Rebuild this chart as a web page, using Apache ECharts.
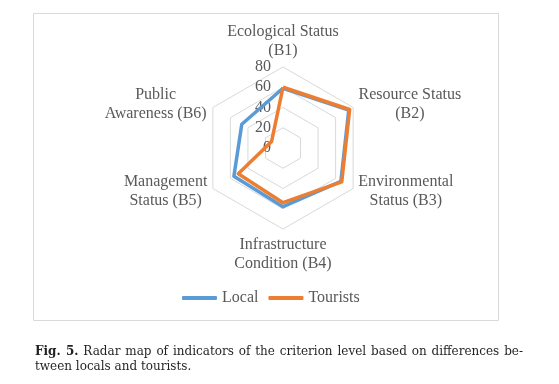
<!DOCTYPE html>
<html>
<head>
<meta charset="utf-8">
<script src="https://cdn.jsdelivr.net/npm/echarts@6/dist/echarts.min.js"></script>
<style>
  html, body { margin: 0; padding: 0; background: #fff; }
  #chart { position: absolute; left: 0; top: 0; width: 559px; height: 384px; }
  .cap { position: absolute; left: 35px; width: 488px; font-family: "DejaVu Serif", serif; font-size: 12px; line-height: 15px; color: #231f20; white-space: nowrap; }
  #cap1 { top: 344px; text-align: justify; text-align-last: justify; }
  #cap2 { top: 359px; }
</style>
</head>
<body>
<div id="chart"></div>
<div class="cap" id="cap1"><b>Fig. 5.</b> Radar map of indicators of the criterion level based on differences be-</div>
<div class="cap" id="cap2">tween locals and tourists.</div>
<script>
// Indicators in reference order B1..B6 (clockwise from top)
const indicatorNames = [
  "Ecological Status\n(B1)",
  "Resource Status\n(B2)",
  "Environmental\nStatus (B3)",
  "Infrastructure\nCondition (B4)",
  "Management\nStatus (B5)",
  "Public\nAwareness (B6)"
];
const seriesNames = ["Local", "Tourists"];
const localValues    = [59, 75, 66, 58, 56, 47];
const touristsValues = [60, 76, 67, 54, 51, 13];
const axisMax = 80;
const tickLabels = ["0", "20", "40", "60", "80"];

// label block widths (style only)
const nameWidths = [120, 103, 95, 110, 84, 104];

// ECharts radar runs counter-clockwise; reorder to clockwise
const order = [0, 5, 4, 3, 2, 1];
const reorder = arr => order.map(i => arr[i]);

const indicators = order.map((i, k) => {
  const ind = { name: indicatorNames[i], max: axisMax, min: 0 };
  if (k === 0) {
    ind.axisLabel = { show: true };
  }
  return ind;
});

const rich = {};
nameWidths.forEach((w, i) => {
  rich['w' + i] = { width: w, align: 'center', fontSize: 16, lineHeight: 19,
    fontFamily: '"Liberation Serif", "Times New Roman", serif', color: '#595959' };
});

const chart = echarts.init(document.getElementById('chart'), null, { renderer: 'canvas' });
chart.setOption({
  animation: false,
  backgroundColor: '#fff',
  graphic: [{
    type: 'rect', shape: { x: 33.5, y: 13.5, width: 465, height: 307 },
    style: { fill: 'none', stroke: '#d9d9d9', lineWidth: 1 }, z: -10
  }],
  legend: {
    data: seriesNames,
    left: 177, top: 285,
    icon: 'roundRect',
    itemWidth: 35, itemHeight: 4, itemGap: 10,
    textStyle: { fontSize: 16, fontFamily: '"Liberation Serif", "Times New Roman", serif', color: '#595959' }
  },
  radar: {
    center: [283, 148],
    radius: 81,
    startAngle: 90,
    splitNumber: 4,
    shape: 'polygon',
    indicator: indicators,
    nameGap: 6,
    axisName: {
      color: '#595959',
      fontSize: 16,
      fontFamily: '"Liberation Serif", "Times New Roman", serif',
      formatter: function (value) {
        const idx = indicatorNames.indexOf(value);
        return value.split('\n').map(l => '{w' + idx + '|' + l + '}').join('\n');
      },
      rich: rich
    },
    axisLine: { show: false },
    axisTick: { show: false },
    axisLabel: {
      show: false,
      fontSize: 16,
      margin: 12,
      color: '#595959',
      fontFamily: '"Liberation Serif", "Times New Roman", serif',
      formatter: function (v) { const i = tickLabels.indexOf(String(v)); return i >= 0 ? tickLabels[i] : ''; }
    },
    splitLine: { lineStyle: { color: '#d9d9d9', width: 1 } },
    splitArea: { show: false }
  },
  series: [{
    type: 'radar',
    symbol: 'none',
    data: [
      { name: seriesNames[0], value: reorder(localValues),
        lineStyle: { color: '#5b9bd5', width: 3.5, join: 'round' }, itemStyle: { color: '#5b9bd5' } },
      { name: seriesNames[1], value: reorder(touristsValues),
        lineStyle: { color: '#ed7d31', width: 3.5, join: 'round' }, itemStyle: { color: '#ed7d31' } }
    ]
  }]
});
</script>
</body>
</html>
